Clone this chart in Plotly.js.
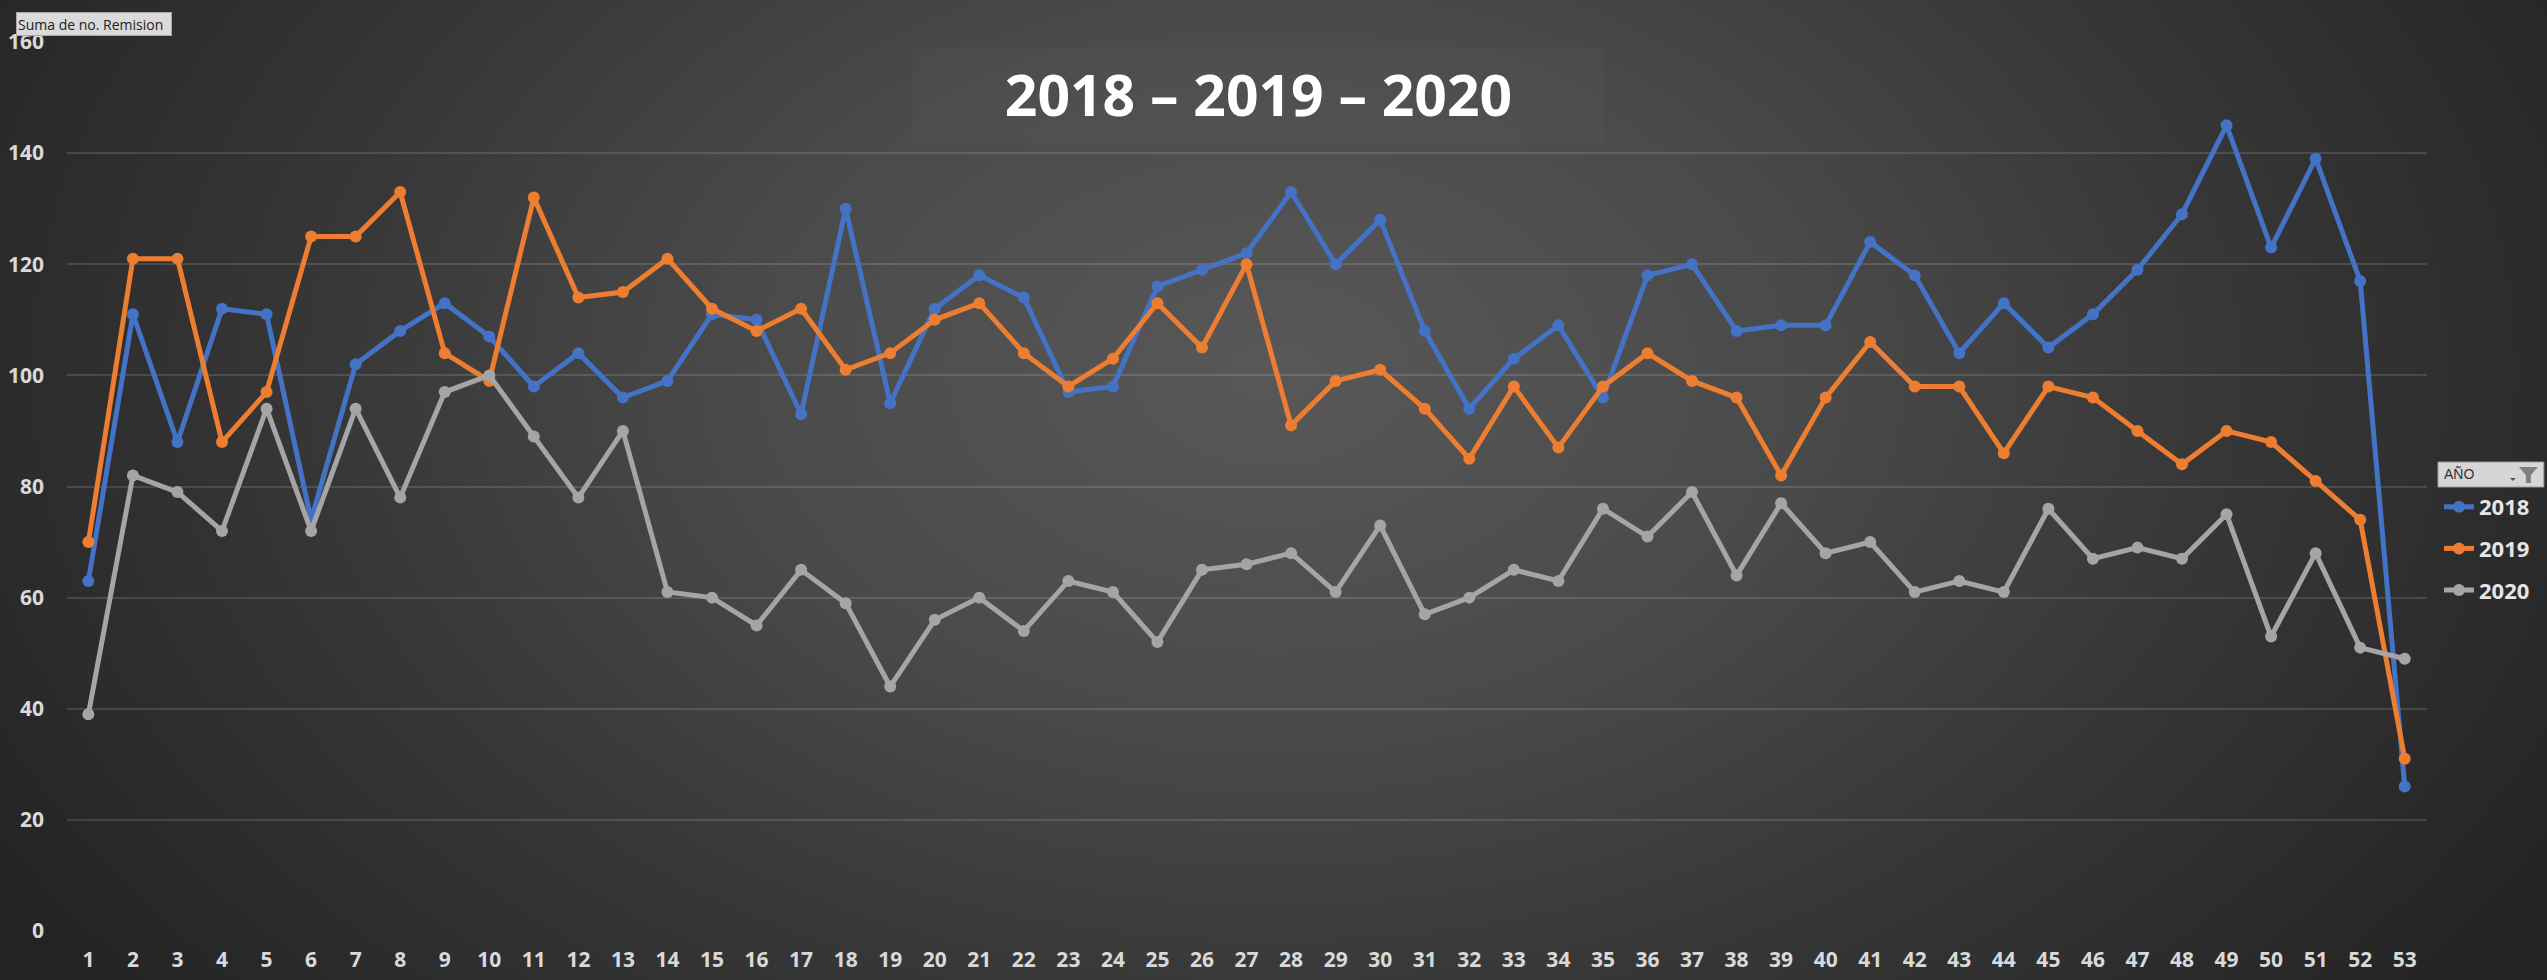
<!DOCTYPE html>
<html>
<head>
<meta charset="utf-8">
<script src="https://cdn.plot.ly/plotly-3.0.1.min.js"></script>
<style>
  html, body { margin: 0; padding: 0; width: 2547px; height: 980px; overflow: hidden; }
  body {
    background: radial-gradient(ellipse 1500px 1000px at 50% 38%, #585858 0%, #4a4a4a 35%, #363636 65%, #232323 100%);
  }
  #chart { width: 2547px; height: 980px; }
</style>
</head>
<body>
<div id="chart"></div>
<script>
// ---- data ----
const weeks = [1,2,3,4,5,6,7,8,9,10,11,12,13,14,15,16,17,18,19,20,21,22,23,24,25,26,27,28,29,30,31,32,33,34,35,36,37,38,39,40,41,42,43,44,45,46,47,48,49,50,51,52,53];
const y2018 = [63,111,88,112,111,74,102,108,113,107,98,104,96,99,111,110,93,130,95,112,118,114,97,98,116,119,122,133,120,128,108,94,103,109,96,118,120,108,109,109,124,118,104,113,105,111,119,129,145,123,139,117,26];
const y2019 = [70,121,121,88,97,125,125,133,104,99,132,114,115,121,112,108,112,101,104,110,113,104,98,103,113,105,120,91,99,101,94,85,98,87,98,104,99,96,82,96,106,98,98,86,98,96,90,84,90,88,81,74,31];
const y2020 = [39,82,79,72,94,72,94,78,97,100,89,78,90,61,60,55,65,59,44,56,60,54,63,61,52,65,66,68,61,73,57,60,65,63,76,71,79,64,77,68,70,61,63,61,76,67,69,67,75,53,68,51,49];
const seriesNames = ['2018','2019','2020'];
const yTicks = [0,20,40,60,80,100,120,140,160];
const chartTitle = '2018 – 2019 – 2020';
const fieldButton = 'Suma de no. Remision';
const legendHeader = 'AÑO';

// ---- styling ----
const colors = ['#4472C4', '#ED7D31', '#A5A5A5'];
const W = 2547, H = 980;
const M = {l: 67, r: 117, t: 42, b: 49};
const PW = W - M.l - M.r, PH = H - M.t - M.b;
const px = x => (x - M.l) / PW;      // page px -> paper x
const py = y => (H - M.b - y) / PH;  // page px -> paper y
const FONT = 'Open Sans, Noto Sans, sans-serif';

const allY = [y2018, y2019, y2020];
const traces = allY.map((ys, i) => ({
  type: 'scatter',
  mode: 'lines+markers',
  x: weeks,
  y: ys,
  name: seriesNames[i],
  legendgroup: seriesNames[i],
  line: {color: colors[i], width: 5},
  marker: {color: colors[i], size: 12},
  hoverinfo: 'x+y+name'
}));

const layout = {
  width: W, height: H,
  paper_bgcolor: 'rgba(0,0,0,0)',
  plot_bgcolor: 'rgba(0,0,0,0)',
  margin: M,
  font: {family: FONT, color: '#d9d9d9'},
  title: {
    text: chartTitle,
    font: {family: FONT, size: 57, color: '#ffffff', weight: 'bold'},
    xref: 'paper', x: px(1260), xanchor: 'center',
    yref: 'container', y: 1 - 96 / H, yanchor: 'middle'
  },
  xaxis: {
    type: 'linear',
    range: [0.52, 53.5],
    tickmode: 'array',
    tickvals: weeks,
    ticktext: weeks.map(String),
    showgrid: false,
    zeroline: false,
    showline: false,
    ticks: '',
    ticklabelstandoff: 14,
    tickfont: {family: FONT, size: 21, color: '#d9d9d9', weight: 'bold'},
    fixedrange: true
  },
  yaxis: {
    range: [0, 160],
    tickmode: 'array',
    tickvals: yTicks,
    ticktext: yTicks.map(String),
    showgrid: true,
    gridcolor: 'rgba(255,255,255,0.13)',
    gridwidth: 1.5,
    zeroline: false,
    showline: false,
    ticks: '',
    ticklabelstandoff: 22,
    tickfont: {family: FONT, size: 21, color: '#d9d9d9', weight: 'bold'},
    fixedrange: true
  },
  showlegend: true,
  legend: {
    x: px(2442), xanchor: 'left',
    y: py(486), yanchor: 'top',
    bgcolor: 'rgba(0,0,0,0)',
    borderwidth: 0,
    font: {family: FONT, size: 22, color: '#e6e6e6', weight: 'bold'},
    tracegroupgap: 10,
    itemwidth: 30
  },
  shapes: [
    // lighter panel behind the title
    {type: 'rect', xref: 'paper', yref: 'paper', layer: 'below',
     x0: px(914), x1: px(1607), y0: py(143), y1: py(47),
     fillcolor: 'rgba(255,255,255,0.02)', line: {width: 0}},
    // legend header box
    {type: 'rect', xref: 'paper', yref: 'paper',
     x0: px(2441), x1: px(2547), y0: py(487), y1: py(462),
     fillcolor: '#d6d6d6', line: {color: '#9a9a9a', width: 1}},
    // funnel icon
    {type: 'path', xref: 'paper', yref: 'paper',
     path: 'M ' + px(2522) + ' ' + py(467) + ' L ' + px(2541) + ' ' + py(467) +
           ' L ' + px(2534) + ' ' + py(475) + ' L ' + px(2534) + ' ' + py(483) +
           ' L ' + px(2529) + ' ' + py(483) + ' L ' + px(2529) + ' ' + py(475) + ' Z',
     fillcolor: '#7f7f7f', line: {width: 0}},
    // small drop arrow
    {type: 'path', xref: 'paper', yref: 'paper',
     path: 'M ' + px(2513) + ' ' + py(478) + ' L ' + px(2519) + ' ' + py(478) +
           ' L ' + px(2516) + ' ' + py(481) + ' Z',
     fillcolor: '#555555', line: {width: 0}}
  ],
  annotations: [
    {text: fieldButton, xref: 'paper', yref: 'paper',
     x: px(16), xanchor: 'left', y: py(12), yanchor: 'top',
     showarrow: false, align: 'left',
     font: {family: FONT, size: 14, color: '#222222'},
     bgcolor: '#dadada', bordercolor: '#a8a8a8', borderwidth: 1,
     width: 152, height: 20, borderpad: 1},
    {text: legendHeader, xref: 'paper', yref: 'paper',
     x: px(2445), xanchor: 'left', y: py(474.5), yanchor: 'middle',
     showarrow: false,
     font: {family: 'Liberation Sans, Arial, sans-serif', size: 14, color: '#333333'}}
  ]
};

Plotly.newPlot('chart', traces, layout, {displayModeBar: false});
</script>
</body>
</html>
